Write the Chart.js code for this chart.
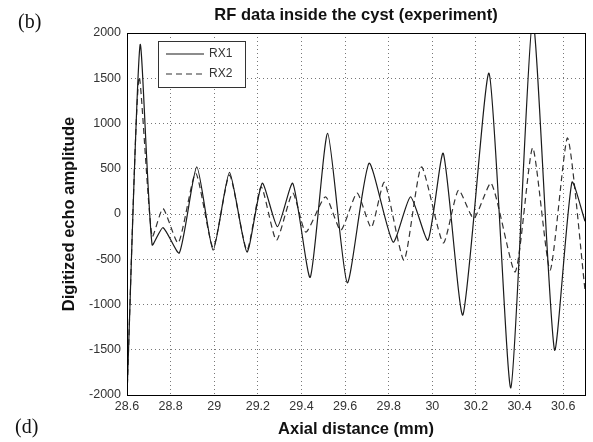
<!DOCTYPE html>
<html>
<head>
<meta charset="utf-8">
<script src="https://cdn.jsdelivr.net/npm/chart.js@4"></script>
<style>
  body { margin: 0; background: #fff; }
  #wrap { width: 593px; height: 442px; }
</style>
</head>
<body>
<div id="wrap"><canvas id="rfChart"></canvas></div>
<script>
// values (peaks / troughs of each trace)
const rx1Dist = [28.6, 28.66, 28.715, 28.765, 28.84, 28.92, 28.995, 29.07, 29.15, 29.22, 29.29, 29.36, 29.44, 29.52, 29.61, 29.71, 29.82, 29.9, 29.98, 30.05, 30.14, 30.26, 30.36, 30.46, 30.56, 30.64, 30.7];
const rx1Amp  = [-2000, 1870, -340, -150, -430, 520, -400, 460, -420, 340, -140, 340, -700, 890, -760, 560, -310, 190, -290, 670, -1115, 1555, -1920, 2150, -1500, 350, -80];

const rx2Dist = [28.6, 28.655, 28.715, 28.765, 28.835, 28.915, 28.995, 29.07, 29.15, 29.215, 29.285, 29.36, 29.42, 29.51, 29.58, 29.655, 29.72, 29.78, 29.87, 29.95, 30.05, 30.12, 30.19, 30.27, 30.38, 30.46, 30.54, 30.62, 30.7];
const rx2Amp  = [-2000, 1510, -250, 60, -320, 450, -370, 430, -400, 300, -290, 230, -200, 190, -180, 230, -150, 350, -510, 520, -320, 265, -50, 340, -640, 730, -620, 840, -840];

const xTicks = [28.6, 28.8, 29, 29.2, 29.4, 29.6, 29.8, 30, 30.2, 30.4, 30.6];
const yTicks = [-2000, -1500, -1000, -500, 0, 500, 1000, 1500, 2000];

const toPoints = (xs, ys) => xs.map((x, i) => ({ x: x, y: ys[i] }));

const sans = '"Liberation Sans", Arial, sans-serif';

// box, legend and panel letters
const extras = {
    id: 'extras',
    afterDraw(chart) {
        const ctx = chart.ctx;
        const a = chart.chartArea;
        ctx.save();
        ctx.strokeStyle = '#000';
        ctx.lineWidth = 1;
        ctx.setLineDash([]);
        ctx.strokeRect(a.left + 0.5, a.top + 0.5, a.right - a.left, a.bottom - a.top);

        // legend
        const lx = 158, ly = 41, lw = 87, lh = 46;
        ctx.fillStyle = '#fff';
        ctx.fillRect(lx, ly, lw, lh);
        ctx.strokeStyle = '#333';
        ctx.strokeRect(lx + 0.5, ly + 0.5, lw, lh);
        ctx.font = '12px ' + sans;
        ctx.textBaseline = 'middle';
        chart.data.datasets.forEach((ds, i) => {
            const y = ly + 13 + i * 20;
            ctx.strokeStyle = ds.borderColor;
            ctx.lineWidth = ds.borderWidth;
            ctx.setLineDash(ds.borderDash || []);
            ctx.beginPath();
            ctx.moveTo(lx + 8, y);
            ctx.lineTo(lx + 46, y);
            ctx.stroke();
            ctx.fillStyle = '#333';
            ctx.fillText(ds.label, lx + 51, y);
        });

        ctx.setLineDash([]);
        ctx.fillStyle = '#111';
        ctx.font = '20px "Liberation Serif", "Times New Roman", serif';
        ctx.textBaseline = 'alphabetic';
        ctx.fillText('(b)', 18, 28);
        ctx.fillText('(d)', 15, 433);
        ctx.restore();
    }
};

new Chart(document.getElementById('rfChart'), {
    type: 'line',
    data: {
        datasets: [
            {
                label: 'RX1',
                data: toPoints(rx1Dist, rx1Amp),
                borderColor: '#1a1a1a',
                borderWidth: 1.2,
                pointRadius: 0,
                tension: 0.2
            },
            {
                label: 'RX2',
                data: toPoints(rx2Dist, rx2Amp),
                borderColor: '#333',
                borderWidth: 1.2,
                borderDash: [6, 4],
                pointRadius: 0,
                tension: 0.2
            }
        ]
    },
    options: {
        responsive: true,
        maintainAspectRatio: false,
        animation: false,
        layout: { padding: { left: 55, right: 8, top: 0, bottom: 0 } },
        plugins: {
            legend: { display: false },
            tooltip: { enabled: false },
            title: {
                display: true,
                fullSize: false,
                text: 'RF data inside the cyst (experiment)',
                color: '#111',
                font: { family: sans, size: 16.5, weight: 'bold' },
                padding: { top: 6, bottom: 7.2 }
            }
        },
        scales: {
            x: {
                type: 'linear',
                min: 28.6,
                max: 30.7,
                afterBuildTicks: s => { s.ticks = xTicks.map(v => ({ value: v })); },
                afterFit: s => { s.height = 47; },
                ticks: {
                    color: '#333',
                    padding: 4,
                    maxRotation: 0,
                    font: { family: sans, size: 12.5 },
                    callback: v => String(v)
                },
                grid: { color: '#777', lineWidth: 1, drawTicks: false },
                border: { display: false, dash: [1, 3] },
                title: {
                    display: true,
                    text: 'Axial distance (mm)',
                    color: '#111',
                    font: { family: sans, size: 16.5, weight: 'bold' },
                    padding: { top: 0, bottom: 3 }
                }
            },
            y: {
                min: -2000,
                max: 2000,
                afterBuildTicks: s => { s.ticks = yTicks.map(v => ({ value: v })); },
                afterFit: s => { s.width = 72; },
                ticks: {
                    color: '#333',
                    padding: 6,
                    font: { family: sans, size: 12.5 },
                    callback: v => String(v)
                },
                grid: { color: '#777', lineWidth: 1, drawTicks: false },
                border: { display: false, dash: [1, 3] },
                title: {
                    display: true,
                    text: 'Digitized echo amplitude',
                    color: '#111',
                    font: { family: sans, size: 16.5, weight: 'bold' },
                    padding: { top: 5, bottom: 0 }
                }
            }
        }
    },
    plugins: [extras]
});
</script>
</body>
</html>
